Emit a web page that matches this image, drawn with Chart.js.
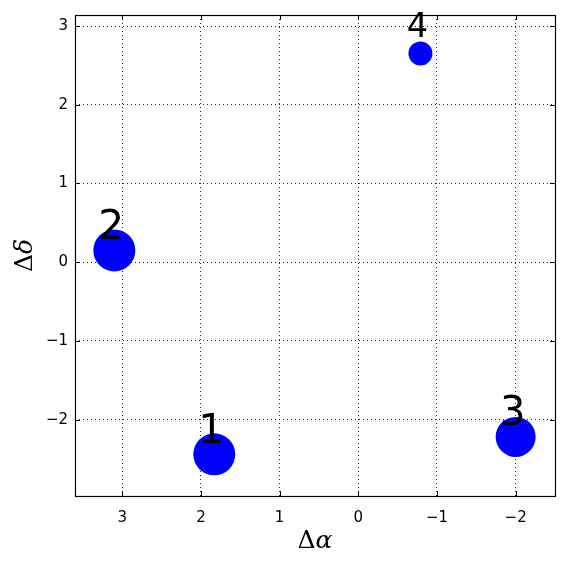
<!DOCTYPE html>
<html>
<head>
<meta charset="utf-8">
<script src="https://cdn.jsdelivr.net/npm/chart.js@4.4.1/dist/chart.umd.min.js"></script>
<style>
  html, body { margin: 0; padding: 0; background: #fff; }
</style>
</head>
<body>
<canvas id="offsetChart" width="565" height="563"></canvas>
<script>
// source ids and offsets
const sourceIds = ['1', '2', '3', '4'];
const deltaAlpha = [1.83, 3.10, -2.00, -0.79];
const deltaDelta = [-2.44, 0.15, -2.22, 2.65];
const markerSize = [21, 21, 20, 12];
const xTicks = [3, 2, 1, 0, -1, -2];
const yTicks = [-2, -1, 0, 1, 2, 3];

function fmtTick(v) {
    return v < 0 ? '\u2212' + Math.abs(v) : String(v);
}

// draws the frame, inward tick marks, point labels and the math axis titles
const decorPlugin = {
    id: 'decor',
    afterDraw(chart) {
        const ctx = chart.ctx;
        const area = chart.chartArea;
        const xs = chart.scales.x;
        const ys = chart.scales.y;
        ctx.save();

        // frame
        ctx.strokeStyle = '#000';
        ctx.lineWidth = 1.2;
        ctx.strokeRect(Math.round(area.left) + 0.5, Math.round(area.top) + 0.5,
            Math.round(area.right - area.left), Math.round(area.bottom - area.top));

        // inward ticks on all four sides
        const tl = 5;
        ctx.lineWidth = 1;
        ctx.beginPath();
        xTicks.forEach(t => {
            const px = Math.round(xs.getPixelForValue(t)) + 0.5;
            ctx.moveTo(px, area.bottom); ctx.lineTo(px, area.bottom - tl);
            ctx.moveTo(px, area.top); ctx.lineTo(px, area.top + tl);
        });
        yTicks.forEach(t => {
            const py = Math.round(ys.getPixelForValue(t)) + 0.5;
            ctx.moveTo(area.left, py); ctx.lineTo(area.left + tl, py);
            ctx.moveTo(area.right, py); ctx.lineTo(area.right - tl, py);
        });
        ctx.stroke();

        // point labels
        const meta = chart.getDatasetMeta(0);
        ctx.fillStyle = '#000';
        ctx.textAlign = 'center';
        ctx.textBaseline = 'alphabetic';
        meta.data.forEach((pt, i) => {
            const fs = 24 + markerSize[i] * 0.8;
            ctx.font = fs + 'px "DejaVu Sans"';
            ctx.fillText(sourceIds[i], pt.x - 3, pt.y - 11 - (41 - fs) * 0.7);
        });

        // axis titles: upright Delta + italic greek letter
        function mathLabel(x, y, greek) {
            ctx.textAlign = 'left';
            ctx.font = '25px "DejaVu Serif"';
            const w1 = ctx.measureText('\u0394').width;
            ctx.font = 'italic 25px "DejaVu Serif"';
            const w2 = ctx.measureText(greek).width;
            const x0 = x - (w1 + w2) / 2;
            ctx.font = '25px "DejaVu Serif"';
            ctx.fillText('\u0394', x0, y);
            ctx.font = 'italic 25px "DejaVu Serif"';
            ctx.fillText(greek, x0 + w1, y);
        }
        mathLabel((area.left + area.right) / 2, 548, '\u03b1');
        ctx.translate(32, (area.top + area.bottom) / 2);
        ctx.rotate(-Math.PI / 2);
        mathLabel(0, 0, '\u03b4');

        ctx.restore();
    }
};

const ctx = document.getElementById('offsetChart').getContext('2d');
const chart = new Chart(ctx, {
    type: 'bubble',
    data: {
        datasets: [{
            data: sourceIds.map((id, i) => ({
                x: deltaAlpha[i],
                y: deltaDelta[i],
                r: markerSize[i]
            })),
            backgroundColor: '#0000ff',
            borderWidth: 0,
            clip: false
        }]
    },
    options: {
        responsive: false,
        animation: false,
        events: [],
        layout: {
            autoPadding: false,
            padding: { top: 15, right: 10, left: 0, bottom: 0 }
        },
        plugins: {
            legend: { display: false },
            tooltip: { enabled: false }
        },
        scales: {
            x: {
                type: 'linear',
                reverse: true,
                min: -2.5,
                max: 3.6,
                z: 1,
                afterBuildTicks: scale => {
                    scale.ticks = xTicks.map(v => ({ value: v }));
                },
                afterFit: scale => {
                    scale.height = 67;
                    scale.paddingLeft = 0;
                    scale.paddingRight = 0;
                },
                ticks: {
                    color: '#000',
                    padding: 13,
                    maxRotation: 0,
                    font: { family: 'DejaVu Sans', size: 15 },
                    callback: fmtTick
                },
                grid: {
                    color: 'rgba(0,0,0,0.85)',
                    lineWidth: 1,
                    drawTicks: false
                },
                border: { display: false, dash: [1, 3] }
            },
            y: {
                type: 'linear',
                min: -2.97,
                max: 3.14,
                z: 1,
                afterBuildTicks: scale => {
                    scale.ticks = yTicks.map(v => ({ value: v }));
                },
                afterFit: scale => {
                    scale.width = 75;
                    scale.paddingTop = 0;
                    scale.paddingBottom = 0;
                },
                ticks: {
                    color: '#000',
                    padding: 7,
                    font: { family: 'DejaVu Sans', size: 15 },
                    callback: fmtTick
                },
                grid: {
                    color: 'rgba(0,0,0,0.85)',
                    lineWidth: 1,
                    drawTicks: false
                },
                border: { display: false, dash: [1, 3] }
            }
        }
    },
    plugins: [decorPlugin]
});
</script>
</body>
</html>
